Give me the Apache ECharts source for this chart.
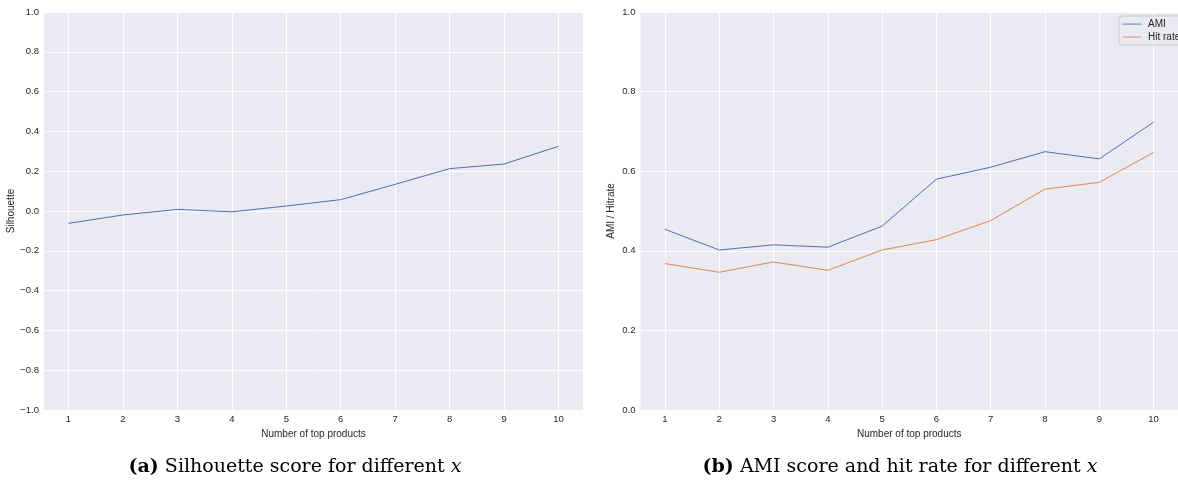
<!DOCTYPE html>
<html><head><meta charset="utf-8">
<script src="https://cdn.jsdelivr.net/npm/echarts@6/dist/echarts.min.js"></script>
<style>html,body{margin:0;padding:0;background:#fff}#c{width:1178px;height:482px}</style>
</head><body><div id="c"></div>
<script>
const topProducts = [1, 2, 3, 4, 5, 6, 7, 8, 9, 10];
const silhouette = [-0.062, -0.020, 0.008, -0.004, 0.025, 0.057, 0.134, 0.213, 0.236, 0.325];
const ami = [0.454, 0.402, 0.415, 0.409, 0.462, 0.580, 0.610, 0.649, 0.631, 0.723];
const hitRate = [0.368, 0.346, 0.372, 0.351, 0.402, 0.428, 0.476, 0.555, 0.572, 0.647];
const xTickValues = [1, 2, 3, 4, 5, 6, 7, 8, 9, 10];
const seriesNames = ['AMI', 'Hit rate'];
const xName = 'Number of top products';
const yNameLeft = 'Silhouette';
const yNameRight = 'AMI / Hitrate';
const captionA = ['(a)', ' Silhouette score for different ', 'x'];
const captionB = ['(b)', ' AMI score and hit rate for different ', 'x'];

const pairs = (xs, ys) => xs.map((x, i) => [x, ys[i]]);
const fmt = v => (v < 0 ? '\u2212' : '') + Math.abs(v).toFixed(1);
const tickFont = { fontFamily: 'Liberation Sans', fontSize: 9.5, color: '#262626' };
const nameFont = { fontFamily: 'Liberation Sans', fontSize: 10, color: '#262626' };
const capFam = 'DejaVu Serif';
const capSize = 19;

function xAxis(gi) {
  return {
    type: 'value', gridIndex: gi, min: 0.55, max: 10.45,
    axisLine: { show: false },
    axisTick: { show: false, customValues: xTickValues },
    axisLabel: Object.assign({ customValues: xTickValues, margin: 4, formatter: v => String(v) }, tickFont),
    splitLine: { show: true, lineStyle: { color: '#ffffff', width: 1 } },
    name: xName, nameLocation: 'middle', nameGap: 12, nameTextStyle: nameFont
  };
}
function yAxis(gi, min, name, gap) {
  return {
    type: 'value', gridIndex: gi, min: min, max: 1, interval: 0.2,
    axisLine: { show: false }, axisTick: { show: false },
    axisLabel: Object.assign({ formatter: fmt, margin: 5 }, tickFont),
    splitLine: { show: true, lineStyle: { color: '#ffffff', width: 1 } },
    name: name, nameLocation: 'middle', nameGap: gap, nameRotate: 90, nameTextStyle: nameFont
  };
}
function caption(parts, cx) {
  return { type: 'text', x: cx, y: 467, style: {
    text: '{b|' + parts[0] + '}' + parts[1] + '{i|' + parts[2] + '}',
    textAlign: 'center', textVerticalAlign: 'middle',
    font: capSize + 'px "' + capFam + '"', fill: '#000',
    rich: {
      b: { fontWeight: 'bold', fontFamily: capFam, fontSize: capSize },
      i: { fontStyle: 'italic', fontFamily: capFam, fontSize: capSize }
    } } };
}

const lineIcon = 'path://M0,0L0,0M0,4.6L18,4.6L18,5.5L0,5.5ZM18,10L18,10';

const chart = echarts.init(document.getElementById('c'), null, { renderer: 'canvas' });
chart.setOption({
  animation: false,
  backgroundColor: '#ffffff',
  grid: [
    { left: 44, right: 595, top: 12, bottom: 72, show: true, backgroundColor: '#EAEAF2', borderWidth: 0 },
    { left: 640.5, right: -7.5, top: 12, bottom: 72, show: true, backgroundColor: '#EAEAF2', borderWidth: 0 }
  ],
  xAxis: [xAxis(0), xAxis(1)],
  yAxis: [yAxis(0, -1, yNameLeft, 28), yAxis(1, 0, yNameRight, 24)],
  legend: {
    data: seriesNames.map(n => ({ name: n, icon: lineIcon })), left: 1119, top: 16, orient: 'vertical',
    itemWidth: 18, itemHeight: 10, itemGap: 3,
    padding: [3, 6, 3, 4],
    backgroundColor: 'rgba(234,234,242,0.8)', borderColor: '#cccccc', borderWidth: 1, borderRadius: 3,
    textStyle: { fontFamily: 'Liberation Sans', fontSize: 10, color: '#262626', padding: [0, 0, 0, 2] }
  },
  graphic: [caption(captionA, 295), caption(captionB, 900)],
  series: [
    { type: 'line', name: 'Silhouette', xAxisIndex: 0, yAxisIndex: 0, data: pairs(topProducts, silhouette),
      symbol: 'none', lineStyle: { color: '#4C72B0', width: 1 }, itemStyle: { color: '#4C72B0' } },
    { type: 'line', name: seriesNames[0], xAxisIndex: 1, yAxisIndex: 1, data: pairs(topProducts, ami),
      symbol: 'none', lineStyle: { color: '#4C72B0', width: 1 }, itemStyle: { color: '#4C72B0' } },
    { type: 'line', name: seriesNames[1], xAxisIndex: 1, yAxisIndex: 1, data: pairs(topProducts, hitRate),
      symbol: 'none', lineStyle: { color: '#DD8452', width: 1 }, itemStyle: { color: '#DD8452' } }
  ]
});
</script></body></html>
